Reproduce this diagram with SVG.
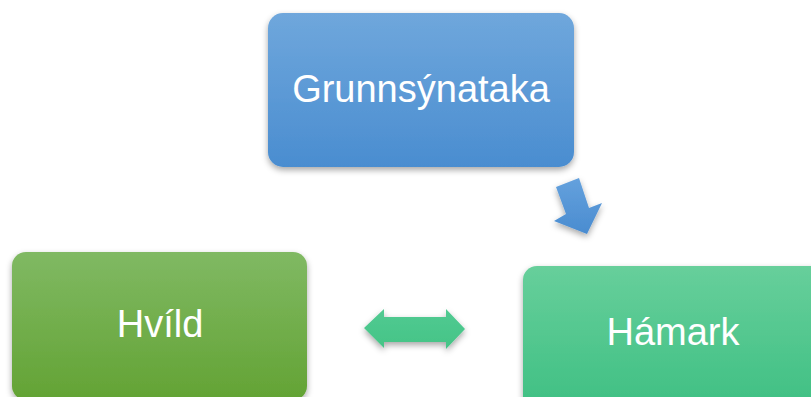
<svg xmlns="http://www.w3.org/2000/svg" width="811" height="397" viewBox="0 0 811 397">
<style>
.lbl{font-family:"Liberation Sans",Arial,sans-serif;font-size:38px;fill:#ffffff;text-anchor:middle}
</style>
<defs>
<linearGradient id="gBlue" x1="0" y1="0" x2="0" y2="1"><stop offset="0" stop-color="#6fa7dc"/><stop offset="1" stop-color="#4a8dd0"/></linearGradient>
<linearGradient id="gGreen" x1="0" y1="0" x2="0" y2="1"><stop offset="0" stop-color="#80b963"/><stop offset="1" stop-color="#63a334"/></linearGradient>
<linearGradient id="gTeal" x1="0" y1="0" x2="0" y2="1"><stop offset="0" stop-color="#67cf9b"/><stop offset="1" stop-color="#3dbf82"/></linearGradient>
<linearGradient id="gArrowB" x1="0" y1="0" x2="0" y2="1"><stop offset="0" stop-color="#64a1dd"/><stop offset="1" stop-color="#4a8cd0"/></linearGradient>
<linearGradient id="gArrowG" x1="0" y1="0" x2="0" y2="1"><stop offset="0" stop-color="#52ca92"/><stop offset="1" stop-color="#44c486"/></linearGradient>
<filter id="sh" x="-20%" y="-20%" width="140%" height="150%"><feDropShadow dx="0" dy="3" stdDeviation="3" flood-color="#000" flood-opacity="0.35"/></filter>
</defs>
<g id="connectors">
<polygon filter="url(#sh)" fill="url(#gArrowB)" points="556,187 579,178 589,208 602,203 587,234 554,221 566,214"/>
<polygon filter="url(#sh)" fill="url(#gArrowG)" points="364,328 384,309 384,317 446,317 446,309 465,329 446,349 446,342 384,342 384,348"/>
</g>
<g id="node-grunnsynataka">
<rect x="268" y="13" width="306" height="154" rx="15" fill="url(#gBlue)" filter="url(#sh)"/>
<text class="lbl" x="421" y="102">Grunnsýnataka</text>
</g>
<g id="node-hvild">
<rect x="12" y="252" width="295" height="148" rx="14" fill="url(#gGreen)" filter="url(#sh)"/>
<text class="lbl" x="160" y="337">Hvíld</text>
</g>
<g id="node-hamark">
<rect x="523" y="266" width="302" height="150" rx="14" fill="url(#gTeal)" filter="url(#sh)"/>
<text class="lbl" x="673" y="345">Hámark</text>
</g>
</svg>
